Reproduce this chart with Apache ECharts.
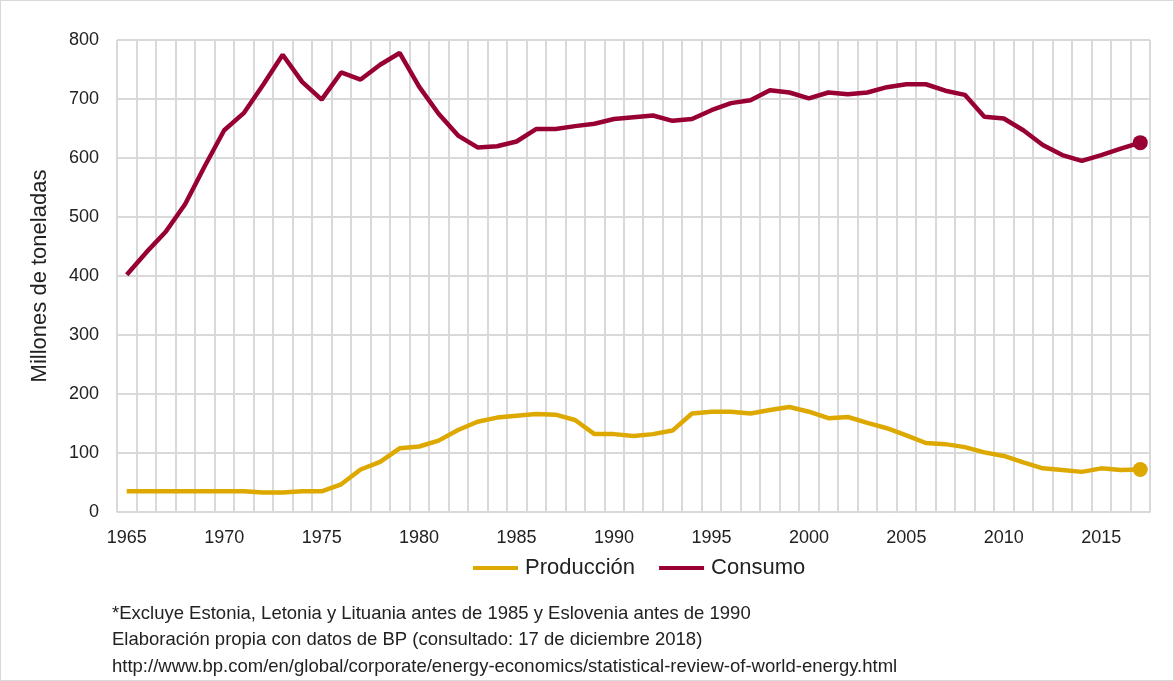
<!DOCTYPE html>
<html>
<head>
<meta charset="utf-8">
<script src="https://cdn.jsdelivr.net/npm/echarts@6/dist/echarts.min.js"></script>
<style>
  html, body { margin: 0; padding: 0; background: #fff; }
  #chart { width: 1172px; height: 679px; border: 1px solid #d9d9d9; }
</style>
</head>
<body>
<div id="chart"></div>
<script>
// años 1965-2017
var years = [];
for (var y = 1965; y <= 2017; y++) { years.push(String(y)); }

var produccion = [35, 35, 35, 35, 35, 35, 35, 33, 33, 35, 35, 47, 72, 85, 108, 111, 121,
  139, 153, 160, 163, 166, 165, 156, 132, 132, 129, 132, 138, 167, 170, 170, 167, 173,
  178, 170, 159, 161, 151, 142, 130, 117, 115, 110, 101, 95, 84, 74, 71, 68, 74, 71, 72];

var consumo = [402, 440, 475, 522, 586, 647, 676, 724, 775, 729, 699, 745, 733, 758, 778, 721, 675,
  638, 618, 620, 628, 649, 649, 654, 658, 666, 669, 672, 663, 666, 681, 693, 698, 715,
  711, 701, 711, 708, 711, 720, 725, 725, 714, 707, 670, 667, 647, 622, 605, 595, 605, 616, 626];

var yTicks = [0, 100, 200, 300, 400, 500, 600, 700, 800];

var notas = [
  "*Excluye Estonia, Letonia y Lituania antes de 1985 y Eslovenia antes de 1990",
  "Elaboración propia con datos de BP (consultado: 17 de diciembre 2018)",
  "http://www.bp.com/en/global/corporate/energy-economics/statistical-review-of-world-energy.html"
];

var fontFam = "'Liberation Sans', 'DejaVu Sans', sans-serif";
var lastIdx = years.length - 1;

function lastDot(val, params) {
  return params.dataIndex === lastIdx ? 15 : 0;
}

var myChart = echarts.init(document.getElementById("chart"));
var option = {
  animation: false,
  textStyle: { fontFamily: fontFam },
  grid: { left: 116, right: 23, top: 39, bottom: 168 },
  legend: {
    top: 551,
    left: 467,
    itemWidth: 45,
    itemHeight: 4,
    itemGap: 24,
    icon: 'rect',
    textStyle: { fontSize: 22, color: '#222', fontFamily: fontFam, padding: [0, 0, 0, 2] },
    data: ['Producción', 'Consumo']
  },
  xAxis: {
    type: 'category',
    data: years,
    boundaryGap: true,
    axisLine: { lineStyle: { color: '#d9d9d9', width: 1 } },
    axisTick: { show: false },
    axisLabel: {
      interval: 4,
      margin: 17,
      fontSize: 18,
      color: '#222',
      fontFamily: fontFam
    },
    splitLine: { show: true, interval: 0, lineStyle: { color: '#d9d9d9', width: 2 } }
  },
  yAxis: {
    type: 'value',
    min: yTicks[0],
    max: yTicks[yTicks.length - 1],
    interval: 100,
    name: 'Millones de toneladas',
    nameLocation: 'middle',
    nameGap: 66,
    nameTextStyle: { fontSize: 22, color: '#222', fontFamily: fontFam },
    axisLine: { show: false },
    axisTick: { show: false },
    axisLabel: { margin: 18, fontSize: 18, color: '#222', fontFamily: fontFam },
    splitLine: { lineStyle: { color: '#d9d9d9', width: 2 } }
  },
  series: [
    {
      name: 'Producción',
      type: 'line',
      data: produccion,
      symbol: 'circle',
      symbolSize: lastDot,
      color: '#DDA900',
      lineStyle: { width: 4.5, color: '#DDA900' },
      itemStyle: { color: '#DDA900' },
      z: 3
    },
    {
      name: 'Consumo',
      type: 'line',
      data: consumo,
      symbol: 'circle',
      symbolSize: lastDot,
      color: '#980033',
      lineStyle: { width: 4.5, color: '#980033' },
      itemStyle: { color: '#980033' },
      z: 4
    }
  ],
  graphic: notas.map(function (t, i) {
    return {
      type: 'text',
      left: 111,
      top: 603 + i * 26.5,
      style: { text: t, fontSize: 18.5, fill: '#222', fontFamily: fontFam }
    };
  })
};
myChart.setOption(option);
</script>
</body>
</html>
